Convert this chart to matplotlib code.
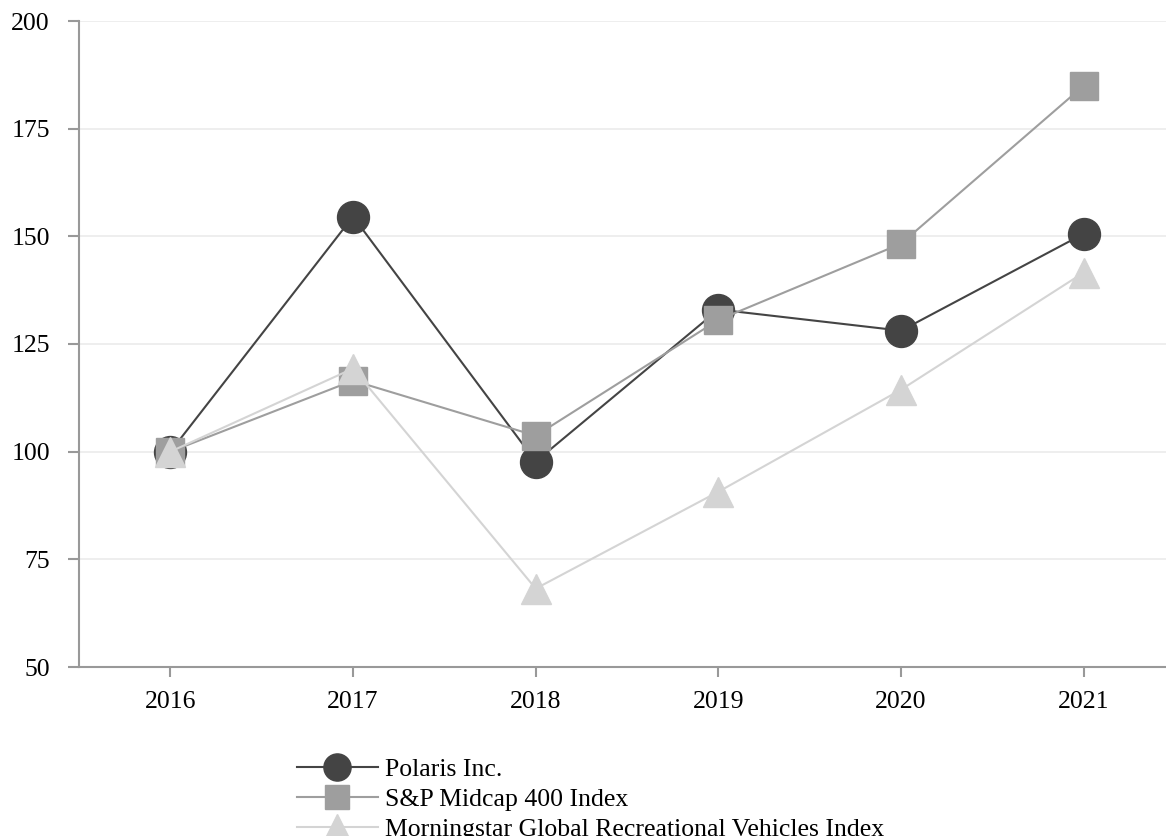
import numpy as np
import matplotlib.pyplot as plt

years = ['2016', '2017', '2018', '2019', '2020', '2021']
polaris = [100, 154.6, 97.7, 133.0, 128.1, 150.6]
sp_midcap = [100, 116.5, 103.7, 130.6, 148.3, 185.0]
morningstar = [100, 119.3, 68.2, 90.7, 114.4, 141.6]

labels = ['Polaris Inc.', 'S&P Midcap 400 Index',
          'Morningstar Global Recreational Vehicles Index']

plt.rcParams['font.family'] = ['Liberation Serif', 'DejaVu Serif']
plt.rcParams['font.size'] = 18.5

fig = plt.figure(figsize=(11.66, 8.36), dpi=100)
ax = fig.add_axes([79 / 1166, 169 / 836, 1 - 79 / 1166, 646 / 836])

x = np.arange(len(years))
ax.plot(x, polaris, color='#444444', lw=1.5, marker='o', ms=23, label=labels[0], zorder=3)
ax.plot(x, sp_midcap, color='#9e9e9e', lw=1.5, marker='s', ms=20, label=labels[1], zorder=4)
ax.plot(x, morningstar, color='#d4d4d4', lw=1.5, marker='^', ms=22, label=labels[2], zorder=5)

ax.set_xlim(-0.5, 5.45)
ax.set_ylim(50, 200)
ax.set_yticks([50, 75, 100, 125, 150, 175, 200])
ax.set_xticks(x)
ax.set_xticklabels(years)
ax.yaxis.grid(True, color='#ebebeb', lw=1.2, zorder=0)
ax.set_axisbelow(True)

for side in ['top', 'right']:
    ax.spines[side].set_visible(False)
for side in ['left', 'bottom']:
    ax.spines[side].set_color('#999999')
    ax.spines[side].set_linewidth(1.5)
ax.tick_params(axis='y', length=8, width=1.5, color='#999999', pad=13)
ax.tick_params(axis='x', length=7.5, width=1.5, color='#999999', pad=10)

leg = fig.legend(loc='upper left', bbox_to_anchor=(297 / 1166, 78 / 836), frameon=False,
                 handlelength=3.15, handletextpad=0.27, labelspacing=0.28,
                 borderpad=0, borderaxespad=0, fontsize=18.5, markerscale=0.85)

fig.savefig('out.png', dpi=100)
